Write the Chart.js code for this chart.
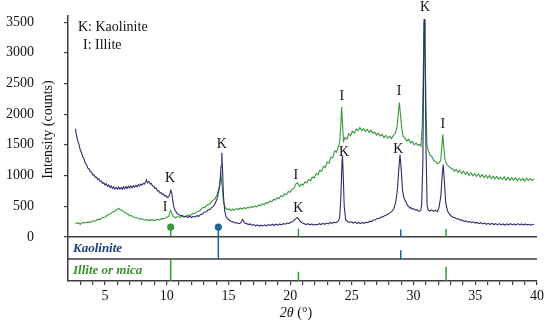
<!DOCTYPE html>
<html><head><meta charset="utf-8">
<script src="https://cdn.jsdelivr.net/npm/chart.js@4.4.1/dist/chart.umd.min.js"></script>
<style>html,body{margin:0;padding:0;background:#fff;}canvas{display:block;}</style>
</head><body>
<canvas id="c" width="550" height="327"></canvas>
<script>
// ---- data (2θ in degrees, intensity in counts) ----
const sampleNavy = [[2.6,1760],[2.7,1640],[2.8,1560],[2.9,1500],[3.0,1410],[3.1,1370],[3.2,1300],[3.3,1270],[3.4,1200],[3.5,1180],[3.6,1120],[3.7,1110],[3.8,1060],[3.9,1060],[4.0,1010],[4.1,1010],[4.2,970],[4.3,975],[4.4,935],[4.5,945],[4.6,900],[4.7,910],[4.8,870],[4.9,885],[5.0,845],[5.1,865],[5.2,825],[5.3,845],[5.4,805],[5.5,830],[5.6,790],[5.7,815],[5.8,780],[5.9,805],[6.0,775],[6.1,810],[6.2,780],[6.3,805],[6.4,775],[6.5,815],[6.6,785],[6.7,820],[6.8,790],[6.9,825],[7.0,795],[7.1,830],[7.2,800],[7.3,835],[7.4,810],[7.5,840],[7.6,815],[7.7,850],[7.8,830],[7.9,860],[8.0,845],[8.1,870],[8.2,860],[8.3,900],[8.35,930],[8.45,880],[8.55,900],[8.65,860],[8.75,870],[8.85,830],[8.95,825],[9.05,790],[9.15,790],[9.25,750],[9.35,750],[9.45,715],[9.55,720],[9.65,690],[9.75,695],[9.85,665],[9.95,670],[10.05,640],[10.15,650],[10.25,700],[10.32,760],[10.4,720],[10.48,600],[10.56,500],[10.65,440],[10.75,410],[10.85,375],[10.95,370],[11.1,345],[11.25,350],[11.4,320],[11.55,335],[11.7,315],[11.85,335],[12.0,315],[12.15,335],[12.3,320],[12.45,345],[12.6,335],[12.75,365],[12.9,370],[13.05,405],[13.2,405],[13.35,440],[13.5,445],[13.65,480],[13.8,500],[13.95,560],[14.05,600],[14.15,680],[14.3,850],[14.4,1150],[14.46,1370],[14.52,1100],[14.6,650],[14.7,420],[14.8,330],[14.95,290],[15.1,265],[15.25,250],[15.4,240],[15.55,225],[15.7,230],[15.85,215],[16.0,230],[16.15,285],[16.3,225],[16.45,220],[16.6,200],[16.75,210],[16.9,190],[17.05,200],[17.2,180],[17.35,195],[17.5,175],[17.65,190],[17.8,178],[17.95,195],[18.1,180],[18.25,200],[18.4,185],[18.55,205],[18.7,185],[18.85,205],[19.0,190],[19.15,210],[19.3,195],[19.45,215],[19.6,205],[19.75,225],[19.9,215],[20.05,240],[20.2,245],[20.35,275],[20.5,305],[20.6,315],[20.7,285],[20.85,245],[21.0,225],[21.15,215],[21.3,200],[21.45,215],[21.6,195],[21.75,210],[21.9,190],[22.05,205],[22.2,195],[22.35,215],[22.5,200],[22.65,220],[22.8,205],[22.95,225],[23.1,210],[23.25,235],[23.4,220],[23.55,240],[23.7,230],[23.85,245],[24.0,300],[24.1,600],[24.2,1200],[24.24,1320],[24.3,1000],[24.38,500],[24.5,280],[24.65,250],[24.8,235],[24.95,245],[25.1,225],[25.25,240],[25.4,220],[25.55,235],[25.7,215],[25.85,235],[26.0,220],[26.15,240],[26.3,230],[26.45,255],[26.6,250],[26.75,275],[26.9,275],[27.05,300],[27.2,300],[27.35,320],[27.5,325],[27.65,345],[27.8,355],[27.95,375],[28.1,390],[28.25,420],[28.4,460],[28.55,560],[28.68,750],[28.8,1100],[28.9,1340],[29.0,1100],[29.1,760],[29.2,650],[29.3,600],[29.4,560],[29.5,510],[29.6,500],[29.7,470],[29.8,475],[29.9,450],[30.0,460],[30.15,435],[30.3,440],[30.45,415],[30.58,430],[30.66,540],[30.75,1200],[30.85,3550],[30.92,3200],[31.0,1500],[31.1,500],[31.2,430],[31.3,420],[31.45,440],[31.6,415],[31.75,435],[31.9,410],[32.05,470],[32.2,650],[32.32,1000],[32.4,1180],[32.48,950],[32.6,560],[32.75,420],[32.9,370],[33.05,340],[33.2,320],[33.35,310],[33.5,290],[33.65,295],[33.8,270],[33.95,275],[34.1,250],[34.25,260],[34.4,240],[34.55,250],[34.7,230],[34.85,245],[35.0,225],[35.15,235],[35.3,215],[35.45,230],[35.6,210],[35.75,225],[35.9,205],[36.05,220],[36.2,200],[36.35,220],[36.5,200],[36.65,215],[36.8,195],[36.95,215],[37.1,195],[37.25,210],[37.4,190],[37.55,210],[37.7,195],[37.85,215],[38.0,195],[38.15,210],[38.3,190],[38.45,215],[38.6,195],[38.75,210],[38.9,190],[39.05,210],[39.2,195],[39.35,205],[39.5,190],[39.65,205],[39.75,195]];

const sampleGreen = [[2.6,215],[2.8,230],[3.0,205],[3.2,235],[3.4,225],[3.6,240],[3.8,235],[4.0,260],[4.2,255],[4.4,285],[4.6,285],[4.8,315],[5.0,320],[5.2,355],[5.4,370],[5.6,405],[5.8,420],[6.0,450],[6.1,465],[6.2,445],[6.4,430],[6.6,395],[6.8,380],[7.0,345],[7.2,340],[7.4,310],[7.6,310],[7.8,290],[8.0,295],[8.2,275],[8.4,280],[8.6,265],[8.8,280],[9.0,265],[9.2,285],[9.4,275],[9.6,300],[9.8,295],[10.0,325],[10.15,330],[10.3,430],[10.4,390],[10.5,340],[10.7,310],[10.9,330],[11.1,315],[11.3,340],[11.5,330],[11.7,355],[11.9,350],[12.1,380],[12.3,385],[12.5,415],[12.7,430],[12.9,475],[13.1,480],[13.3,525],[13.5,540],[13.7,590],[13.9,615],[14.1,700],[14.25,800],[14.4,1000],[14.5,800],[14.6,560],[14.75,470],[14.9,445],[15.05,455],[15.2,430],[15.35,450],[15.5,435],[15.65,460],[15.8,445],[15.95,470],[16.1,450],[16.25,475],[16.4,460],[16.55,480],[16.7,470],[16.85,495],[17.0,480],[17.15,505],[17.3,490],[17.45,520],[17.6,505],[17.75,540],[17.9,525],[18.05,560],[18.2,545],[18.35,585],[18.5,570],[18.65,610],[18.8,600],[18.95,640],[19.1,625],[19.25,670],[19.4,655],[19.55,700],[19.7,690],[19.85,740],[20.0,725],[20.15,775],[20.3,790],[20.45,860],[20.6,880],[20.75,820],[20.9,860],[21.05,845],[21.2,895],[21.35,880],[21.5,935],[21.65,915],[21.8,975],[21.95,960],[22.1,1030],[22.25,1010],[22.4,1085],[22.55,1070],[22.7,1150],[22.85,1130],[23.0,1220],[23.15,1200],[23.3,1300],[23.45,1290],[23.6,1400],[23.75,1380],[23.9,1470],[24.0,1520],[24.1,1800],[24.17,2120],[24.24,1850],[24.32,1560],[24.45,1620],[24.6,1590],[24.75,1680],[24.9,1650],[25.05,1720],[25.2,1690],[25.35,1760],[25.5,1730],[25.65,1780],[25.8,1735],[25.95,1765],[26.1,1720],[26.25,1750],[26.4,1700],[26.55,1740],[26.7,1690],[26.85,1710],[27.0,1660],[27.15,1690],[27.3,1640],[27.45,1670],[27.6,1620],[27.75,1655],[27.9,1610],[28.05,1640],[28.2,1600],[28.35,1650],[28.5,1680],[28.65,1780],[28.75,1980],[28.85,2190],[28.95,1960],[29.05,1760],[29.15,1640],[29.3,1610],[29.45,1560],[29.6,1590],[29.75,1530],[29.9,1555],[30.05,1500],[30.2,1530],[30.35,1490],[30.5,1510],[30.6,1480],[30.7,1800],[30.78,2600],[30.85,3500],[30.92,3300],[31.0,2200],[31.08,1500],[31.2,1400],[31.35,1330],[31.5,1300],[31.65,1240],[31.8,1230],[31.95,1190],[32.1,1210],[32.2,1250],[32.3,1500],[32.37,1670],[32.45,1450],[32.55,1250],[32.7,1180],[32.85,1150],[33.0,1120],[33.15,1110],[33.3,1070],[33.45,1100],[33.6,1050],[33.75,1085],[33.9,1030],[34.05,1070],[34.2,1020],[34.35,1055],[34.5,1000],[34.65,1045],[34.8,995],[34.95,1030],[35.1,985],[35.25,1025],[35.4,975],[35.55,1015],[35.7,965],[35.85,1005],[36.0,960],[36.15,1000],[36.3,950],[36.45,990],[36.6,945],[36.75,985],[36.9,940],[37.05,975],[37.2,935],[37.35,980],[37.5,925],[37.65,970],[37.8,920],[37.95,965],[38.1,925],[38.25,960],[38.4,915],[38.55,955],[38.7,920],[38.85,950],[39.0,910],[39.15,955],[39.3,915],[39.45,950],[39.6,920],[39.75,945]];

// reference stick patterns: [2θ, top, bottom] in counts units (bands below zero)
const kaoliniteSticks = [[14.18,159,-360],[28.96,120,0],[28.96,-220,-360]];
const illiteSticks = [[10.32,159,0],[10.32,-360,-720],[20.67,130,0],[20.67,-568,-720],[32.63,130,0],[32.63,-487,-720]];
const stickMarkers = [[10.32,159,'illite'],[14.18,159,'kaolinite']];
const bandEdges = [0,-360];

// peak labels
const peakText   = ['K','I','K','I','K','I','K','I','K','K','I'];
const peakAngle  = [10.27,9.86,14.46,20.45,20.67,24.18,24.37,28.82,28.77,30.93,32.37];
const peakCounts = [951,487,1508,1000,470,2290,1382,2365,1426,3737,1836];

const yTicks = [0,500,1000,1500,2000,2500,3000,3500];
const xTickStart = 3, xTickEnd = 40;

const NAVY = '#2f2c6e', GREEN = '#35993a', BLUE = '#1c6496', GREEN_DK = '#3a8f30', KBLUE = '#1e3f7a';
const SERIF = '"Liberation Serif", "Times New Roman", serif';

function stickData(list){
  const out = [];
  list.forEach(s => { out.push({x:s[0],y:s[1]}); out.push({x:s[0],y:s[2]}); out.push({x:s[0],y:null}); });
  return out;
}

const decor = {
  id:'decor',
  beforeDatasetsDraw(chart){
    const {ctx, chartArea:a, scales:{y}} = chart;
    ctx.save();
    ctx.strokeStyle = '#3c3c3c'; ctx.lineWidth = 1.5;
    bandEdges.forEach(v => {
      const py = y.getPixelForValue(v);
      ctx.beginPath(); ctx.moveTo(a.left, py); ctx.lineTo(a.right, py); ctx.stroke();
    });
    ctx.restore();
  },
  afterDatasetsDraw(chart){
    const {ctx, chartArea:a, scales:{x,y}} = chart;
    ctx.save();
    ctx.fillStyle = '#111';
    ctx.font = '14px ' + SERIF;
    ctx.textAlign = 'center'; ctx.textBaseline = 'middle';
    peakText.forEach((t,i) => ctx.fillText(t, x.getPixelForValue(peakAngle[i]), y.getPixelForValue(peakCounts[i])));
    // legend key
    ctx.textAlign = 'left';
    ctx.fillText('K: Kaolinite', a.left + 10, a.top + 11);
    ctx.fillText('I: Illite', a.left + 15, a.top + 29);
    // band labels
    ctx.font = 'italic bold 13px ' + SERIF;
    ctx.fillStyle = KBLUE;
    ctx.fillText('Kaolinite', a.left + 5, (y.getPixelForValue(0) + y.getPixelForValue(-360)) / 2 + 1);
    ctx.fillStyle = GREEN_DK;
    ctx.fillText('Illite or mica', a.left + 5, (y.getPixelForValue(-360) + y.getPixelForValue(-720)) / 2 + 1);
    // y title, centred on the 0..3500 range
    ctx.fillStyle = '#111';
    ctx.font = '14px ' + SERIF;
    const cy = (y.getPixelForValue(0) + y.getPixelForValue(3500)) / 2;
    ctx.translate(48, cy); ctx.rotate(-Math.PI/2);
    ctx.textAlign = 'center';
    ctx.fillText('Intensity (counts)', 0, 0);
    ctx.setTransform(1,0,0,1,0,0);
    // x title
    const part1 = '2θ', part2 = ' (°)';
    ctx.font = 'italic 14px ' + SERIF;
    const w1 = ctx.measureText(part1).width;
    ctx.font = '14px ' + SERIF;
    const w2 = ctx.measureText(part2).width;
    const x0 = 296 - (w1 + w2) / 2;
    ctx.textAlign = 'left';
    ctx.font = 'italic 14px ' + SERIF;
    ctx.fillText(part1, x0, 313);
    ctx.font = '14px ' + SERIF;
    ctx.fillText(part2, x0 + w1, 313);
    ctx.restore();
  }
};

new Chart(document.getElementById('c'), {
  type:'line',
  data:{
    datasets:[
      {label:'navy', data: sampleNavy.map(p=>({x:p[0],y:p[1]})), borderColor:NAVY, borderWidth:1.1, pointRadius:0, tension:0},
      {label:'green', data: sampleGreen.map(p=>({x:p[0],y:p[1]})), borderColor:GREEN, borderWidth:1.1, pointRadius:0, tension:0},
      {label:'kaolinite ref', data: stickData(kaoliniteSticks), borderColor:BLUE, borderWidth:1.5, pointRadius:0, spanGaps:false},
      {label:'illite ref', data: stickData(illiteSticks), borderColor:GREEN, borderWidth:1.5, pointRadius:0, spanGaps:false},
      {label:'markers', data: stickMarkers.map(m=>({x:m[0],y:m[1]})), showLine:false, pointRadius:3.6, pointBorderWidth:0,
        pointBackgroundColor: stickMarkers.map(m=> m[2]==='illite'?GREEN:BLUE), pointBorderColor: stickMarkers.map(m=> m[2]==='illite'?GREEN:BLUE)}
    ]
  },
  options:{
    responsive:false, animation:false, devicePixelRatio:1,
    layout:{padding:{top:16,right:13,left:0,bottom:0}},
    plugins:{legend:{display:false}, tooltip:{enabled:false}},
    scales:{
      x:{type:'linear', min:2, max:40,
        afterBuildTicks(s){ const t=[]; for(let v=xTickStart; v<=xTickEnd; v++) t.push({value:v}); s.ticks=t; },
        afterFit(s){ s.height = 46; s.paddingLeft = 0; s.paddingRight = 0; s.paddingTop = 0; s.paddingBottom = 0; },
        grid:{drawOnChartArea:false, drawTicks:true, tickLength:4, color:'#3c3c3c', lineWidth:1.2},
        border:{color:'#3c3c3c', width:1.5},
        ticks:{autoSkip:false, maxRotation:0, padding:3, color:'#111', font:{family:SERIF, size:14},
          callback:(v)=> (v % 5 === 0 ? String(v) : '')}
      },
      y:{type:'linear', min:-720, max:3600,
        afterBuildTicks(s){ s.ticks = yTicks.map(v=>({value:v})); },
        afterFit(s){ s.width = 68; s.paddingTop = 0; s.paddingBottom = 0; s.paddingLeft = 0; s.paddingRight = 0; },
        grid:{drawOnChartArea:false, drawTicks:true, tickLength:4, color:'#3c3c3c', lineWidth:1.2},
        border:{color:'#3c3c3c', width:1.5},
        ticks:{padding:30, color:'#111', font:{family:SERIF, size:14}, callback:(v)=>String(v)}
      }
    }
  },
  plugins:[decor]
});
</script>
</body></html>
